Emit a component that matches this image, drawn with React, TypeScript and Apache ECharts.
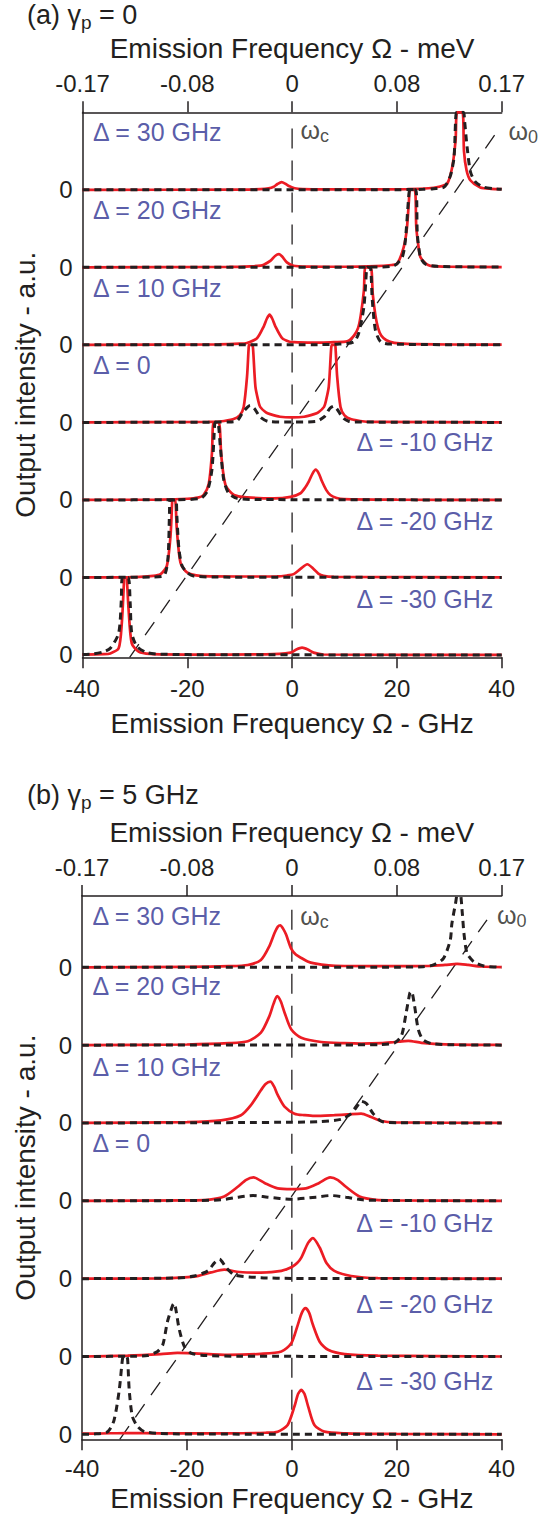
import React, { useEffect, useRef } from 'react';
import * as echarts from 'echarts';

// ---------- categories / ticks ----------
const detunings = [30, 20, 10, 0, -10, -20, -30];
const deltaLabels = ['Δ = 30 GHz', 'Δ = 20 GHz', 'Δ = 10 GHz', 'Δ = 0', 'Δ = -10 GHz', 'Δ = -20 GHz', 'Δ = -30 GHz'];
const ghzTicks = [-40, -20, 0, 20, 40];
const meVTickLabels = ['-0.17', '-0.08', '0', '0.08', '0.17'];
const baselineValues = [0, 1, 2, 3, 4, 5, 6];
const panelLetters = ['(a)', '(b)'];
const gammaValues = ['0', '5 GHz'];

// ---------- panel (a) gamma_p = 0 : [GHz, intensity in trace-spacing units] ----------
const redA_p30 = [[-40,0],[-10,0.003],[-6,0.008],[-4.5,0.018],[-3.5,0.04],[-2.8,0.075],[-2,0.1],[-1.2,0.075],[-0.5,0.045],[0.5,0.02],[2,0.01],[6,0.005],[15,0.005],[22,0.01],[26,0.02],[28,0.04],[29.6,0.08],[30.55,0.29],[31.2,0.64],[31.5,1],[32.5,1],[32.8,0.5],[33.3,0.25],[34.05,0.12],[35.9,0.03],[38,0.012],[40,0.008]];
const blkA_p30 = [[-40,0],[20,0.002],[25,0.006],[27,0.015],[29,0.035],[30.2,0.18],[30.9,0.42],[31.2,0.89],[31.4,1],[32.7,1],[32.9,0.9],[33.4,0.55],[34.05,0.23],[35,0.1],[36.6,0.034],[38.5,0.015],[40,0.008]];
const redA_p20 = [[-40,0],[-12,0.005],[-8,0.012],[-6,0.022],[-5.4,0.034],[-4.1,0.086],[-3.2,0.15],[-2.5,0.17],[-1.9,0.14],[-1,0.064],[0.3,0.02],[3,0.01],[10,0.008],[16,0.015],[19,0.03],[20.05,0.045],[21.3,0.26],[21.9,0.5],[22.3,0.86],[22.5,1],[23.4,1],[23.7,0.52],[24.1,0.28],[24.5,0.13],[25.5,0.05],[26.4,0.02],[30,0.008],[40,0.004]];
const blkA_p20 = [[-40,0],[15,0.003],[19.4,0.02],[21,0.13],[21.6,0.34],[22.3,0.95],[22.5,1],[23.6,1],[23.9,0.43],[24.5,0.13],[25.5,0.04],[27.7,0.013],[40,0.003]];
const redA_p10 = [[-40,0],[-14,0.006],[-10,0.015],[-8.6,0.025],[-6.7,0.086],[-5.4,0.24],[-4.8,0.34],[-4.3,0.39],[-3.8,0.34],[-3.2,0.24],[-1.9,0.086],[-0.5,0.04],[0.3,0.035],[3,0.03],[6,0.03],[8,0.035],[10.5,0.045],[11.8,0.12],[12.6,0.22],[13.1,0.38],[13.7,0.7],[14.0,1],[15.0,1],[15.4,0.65],[15.9,0.38],[16.4,0.22],[17,0.12],[18,0.06],[19.5,0.025],[22,0.012],[30,0.005],[40,0.003]];
const blkA_p10 = [[-40,0],[5,0.003],[9,0.01],[11.8,0.04],[12.7,0.15],[13.7,0.49],[14.2,0.97],[14.3,1],[14.9,1],[15.3,0.58],[15.9,0.19],[16.9,0.04],[18.8,0.01],[40,0]];
const redA_0 = [[-40,0],[-16,0.006],[-13.8,0.012],[-11.3,0.04],[-10,0.09],[-9.24,0.2],[-8.6,0.59],[-8.3,0.95],[-8.2,1],[-7.6,1],[-7.45,0.95],[-7.0,0.46],[-6.5,0.29],[-6.1,0.2],[-5,0.13],[-4.2,0.107],[-2.3,0.073],[0,0.064],[2.3,0.073],[4.2,0.107],[5,0.13],[6.1,0.2],[6.5,0.29],[7.0,0.46],[7.45,0.95],[7.6,1],[8.2,1],[8.3,0.95],[8.6,0.59],[9.24,0.2],[10,0.09],[11.3,0.04],[13.8,0.012],[16,0.006],[40,0]];
const blkA_0 = [[-40,0],[-12,0.005],[-10.5,0.02],[-9.5,0.12],[-8.6,0.19],[-8,0.22],[-7.2,0.18],[-6.1,0.07],[-4.5,0.012],[0,0.004],[4.5,0.012],[6.1,0.07],[7.2,0.18],[8,0.21],[8.6,0.17],[9.7,0.06],[10.8,0.015],[12,0.005],[40,0]];
const redA_m10 = [[-40,0],[-25,0.005],[-20,0.015],[-18,0.03],[-16.9,0.064],[-15.9,0.21],[-15.3,0.6],[-14.96,1],[-14.0,1],[-13.5,0.56],[-12.7,0.19],[-11.1,0.064],[-8.6,0.034],[-3.5,0.02],[-0.3,0.04],[1.6,0.086],[2.5,0.16],[3.2,0.24],[3.9,0.34],[4.5,0.39],[5.1,0.34],[5.7,0.24],[6.5,0.13],[7.3,0.064],[8.5,0.025],[9.9,0.01],[20,0.003],[40,0]];
const blkA_m10 = [[-40,0],[-22,0.003],[-17.5,0.02],[-16.2,0.11],[-15.3,0.39],[-14.8,0.95],[-14.7,1],[-14.2,1],[-13.7,0.69],[-13.05,0.26],[-12.1,0.086],[-10.5,0.02],[-6,0.005],[40,0]];
const redA_m20 = [[-40,0],[-30,0.005],[-26.5,0.02],[-25.1,0.043],[-23.9,0.15],[-23.2,0.54],[-22.9,0.96],[-22.85,1],[-22.35,1],[-22.0,0.62],[-21.3,0.19],[-20.05,0.064],[-17.5,0.02],[-10,0.012],[-2.9,0.013],[-1,0.025],[0.3,0.043],[1.6,0.11],[2.9,0.17],[4.1,0.11],[5,0.05],[6,0.02],[8,0.008],[40,0]];
const blkA_m20 = [[-40,0],[-27,0.005],[-24.5,0.02],[-23.7,0.24],[-23.4,0.84],[-23.3,1],[-22.2,1],[-22.0,0.8],[-21.6,0.37],[-21,0.15],[-20.05,0.064],[-18.8,0.02],[-15,0.005],[40,0]];
const redA_m30 = [[-40,0.005],[-36,0.01],[-34.7,0.02],[-33.1,0.086],[-32.5,0.41],[-32.1,0.92],[-32.05,1],[-31.55,1],[-31.5,0.95],[-31.2,0.58],[-30.6,0.15],[-29.3,0.043],[-27.1,0.013],[-20,0.005],[-5,0.008],[-0.3,0.03],[0.8,0.07],[1.9,0.094],[3,0.07],[4.1,0.03],[6,0.006],[40,0]];
const blkA_m30 = [[-40,0.006],[-37.9,0.013],[-36,0.04],[-34.7,0.086],[-33.1,0.28],[-32.6,0.7],[-32.4,1],[-31.3,1],[-30.9,0.67],[-30.6,0.28],[-29.6,0.11],[-27.7,0.03],[-25.1,0.01],[-15,0.003],[40,0]];

// ---------- panel (b) gamma_p = 5 GHz ----------
const redB_p30 = [[-40,0],[-20,0.006],[-12,0.015],[-8.4,0.03],[-5.9,0.094],[-4.3,0.27],[-3.3,0.44],[-2.7,0.52],[-2.2,0.54],[-1.7,0.5],[-1.1,0.42],[-0.13,0.24],[0.8,0.16],[1.8,0.12],[3,0.075],[4.3,0.05],[7,0.025],[10,0.017],[20,0.015],[26,0.017],[29.2,0.03],[31.5,0.043],[33.6,0.03],[36.2,0.01],[40,0.003]];
const blkB_p30 = [[-40,0],[20,0.002],[25,0.008],[27,0.03],[28.9,0.115],[30.2,0.35],[30.5,0.56],[31.2,0.82],[31.7,1],[32.0,1],[32.5,0.69],[32.8,0.44],[33.4,0.18],[34.7,0.07],[36.6,0.017],[39.1,0.003],[40,0]];
const redB_p20 = [[-40,0],[-20,0.008],[-12,0.025],[-8.4,0.05],[-5.9,0.16],[-4.3,0.37],[-3.5,0.53],[-2.8,0.63],[-2.1,0.56],[-1.4,0.42],[-0.1,0.2],[1.8,0.094],[5.6,0.04],[10,0.025],[13.2,0.02],[17,0.025],[19.6,0.04],[22.2,0.055],[24.7,0.03],[29.2,0.01],[40,0.003]];
const blkB_p20 = [[-40,0],[10,0.003],[17,0.008],[19.6,0.03],[20.9,0.12],[21.8,0.42],[22.5,0.67],[22.8,0.69],[23.4,0.5],[24.1,0.2],[25,0.07],[26.6,0.02],[30,0.005],[40,0]];
const redB_p10 = [[-40,0],[-20,0.012],[-13.5,0.034],[-9.7,0.1],[-7.8,0.23],[-5.9,0.42],[-5,0.5],[-4.1,0.53],[-3.4,0.47],[-2.7,0.36],[-1.4,0.21],[0.5,0.12],[2.5,0.1],[4.3,0.09],[8.1,0.1],[10.7,0.11],[13.2,0.12],[15.1,0.077],[17.1,0.026],[19.6,0.008],[40,0]];
const blkB_p10 = [[-40,0],[-10,0.005],[0,0.01],[5,0.015],[9.4,0.047],[11.3,0.12],[12.5,0.22],[13.2,0.28],[14.2,0.25],[15.5,0.12],[17.1,0.02],[20,0.003],[40,0]];
const redB_0 = [[-40,0],[-20,0.006],[-16,0.013],[-12.9,0.056],[-10.3,0.18],[-8.7,0.27],[-7.3,0.3],[-5.2,0.23],[-2.7,0.16],[0,0.15],[2.7,0.16],[5.2,0.23],[7.3,0.3],[8.7,0.27],[10.3,0.18],[12.9,0.056],[16,0.013],[20,0.006],[40,0]];
const blkB_0 = [[-40,0],[-18,0.004],[-13.5,0.013],[-10.3,0.047],[-7.4,0.068],[-4.6,0.047],[0,0.02],[4.6,0.047],[7.4,0.068],[10.3,0.047],[13.5,0.013],[18,0.004],[40,0]];
const redB_m10 = [[-40,0],[-25,0.004],[-18.6,0.026],[-15.4,0.08],[-12.9,0.115],[-10,0.085],[-5.9,0.077],[-2,0.1],[0,0.15],[1,0.2],[1.8,0.27],[3.1,0.46],[4.0,0.52],[5.3,0.4],[6.6,0.2],[8.1,0.1],[11.3,0.034],[16.4,0.006],[40,0]];
const blkB_m10 = [[-40,0],[-22,0.008],[-18.6,0.034],[-16,0.1],[-14.8,0.2],[-13.8,0.25],[-12.5,0.14],[-10.9,0.047],[-5.9,0.013],[0,0.003],[40,0]];
const redB_m20 = [[-40,0],[-31.3,0.01],[-25,0.03],[-21.8,0.047],[-18.6,0.04],[-12.2,0.02],[-5.9,0.034],[-2,0.064],[-0.1,0.17],[1.15,0.41],[1.9,0.56],[2.6,0.62],[3.3,0.56],[4.0,0.41],[5.3,0.19],[6.9,0.086],[10.1,0.03],[16.4,0.01],[40,0]];
const blkB_m20 = [[-40,0],[-30,0.004],[-27.5,0.013],[-25.6,0.064],[-24.6,0.15],[-23.7,0.45],[-22.7,0.66],[-22.4,0.685],[-22.1,0.6],[-21.5,0.36],[-20.5,0.13],[-19.2,0.043],[-17.3,0.017],[-10,0.003],[40,0]];
const redB_m30 = [[-40,0.01],[-37.7,0.01],[-31.3,0.017],[-25,0.013],[-12.2,0.013],[-5,0.02],[-2.7,0.034],[-0.8,0.12],[0.5,0.36],[1.2,0.52],[1.8,0.57],[2.4,0.52],[3.1,0.36],[4.3,0.12],[6.2,0.034],[10.1,0.013],[20,0.005],[40,0]];
const blkB_m30 = [[-40,0],[-37.7,0.004],[-35.1,0.034],[-33.9,0.18],[-32.9,0.57],[-32.3,0.96],[-32.1,1],[-31.5,1],[-31.3,0.96],[-31.0,0.57],[-30.4,0.23],[-29.4,0.1],[-28.1,0.034],[-25,0.01],[-15,0.003],[40,0]];

// reference lines (axis units)
const omegaCLineA = [[0, 6.79], [0, -0.03]];
const omega0LineA = [[-31, -0.03], [38.8, 6.72]];
const omegaCLineB = [[0, 6.74], [0, -0.064]];
const omega0LineB = [[-32.8, -0.064], [37.2, 6.61]];

const redTraces = [
  [redA_p30, redA_p20, redA_p10, redA_0, redA_m10, redA_m20, redA_m30],
  [redB_p30, redB_p20, redB_p10, redB_0, redB_m10, redB_m20, redB_m30],
];
const blkTraces = [
  [blkA_p30, blkA_p20, blkA_p10, blkA_0, blkA_m10, blkA_m20, blkA_m30],
  [blkB_p30, blkB_p20, blkB_p10, blkB_0, blkB_m10, blkB_m20, blkB_m30],
];
const omegaCLines = [omegaCLineA, omegaCLineB];
const omega0Lines = [omega0LineA, omega0LineB];

// ---------- layout / style ----------
const FONT = '"Liberation Sans", Arial, Helvetica, sans-serif';
const TXT = '#231f20';
const RED = '#ec1c24';
const BLK = '#231f20';
const BLUE = '#2e3192';

const layout = [
  { grid: { left: 82.5, top: 112.3, width: 419.2, height: 545 }, yMin: -0.03, yMax: 7,
    rise: [0.74, 0.74, 0.74, 0.74, 0.75, 0.73, 0.72], wc: [1.6, 6.77], w0: [41.3, 6.76], titleY: 15,
    botMargin: 19, botGap: 52 },
  { grid: { left: 82, top: 896, width: 419.7, height: 543.3 }, yMin: -0.064, yMax: 6.916,
    rise: [0.665, 0.76, 0.72, 0.74, 0.72, 0.68, 0.68], wc: [1.6, 6.66], w0: [39.1, 6.67], titleY: 795,
    botMargin: 17, botGap: 45 },
];
const LEFT_LABEL_X = -38;
const RIGHT_LABEL_X = 38.4;

function buildOption() {
  const grids: any[] = [];
  const xAxes: any[] = [];
  const yAxes: any[] = [];
  const series: any[] = [];
  const graphic: any[] = [];

  layout.forEach((L, p) => {
    grids.push({ ...L.grid, containLabel: false, outerBoundsMode: 'none' });
    const common = {
      type: 'value', gridIndex: p, min: -40, max: 40, interval: 20,
      axisLine: { show: true, onZero: false, lineStyle: { color: TXT, width: 1.5 } },
      axisTick: { show: true, length: 11, inside: false, lineStyle: { color: TXT, width: 1.5 } },
      splitLine: { show: false },
      nameLocation: 'middle', nameMoveOverlap: false,
      nameTextStyle: { color: TXT, fontSize: 28, fontFamily: FONT },
    };
    xAxes.push({
      ...common, position: 'bottom',
      axisLabel: { color: TXT, fontSize: 24, fontFamily: FONT, margin: L.botMargin, formatter: (v: number) => String(v) },
      name: 'Emission Frequency Ω - GHz', nameGap: L.botGap,
    });
    xAxes.push({
      ...common, position: 'top',
      axisLabel: { color: TXT, fontSize: 24, fontFamily: FONT, margin: 17,
        formatter: (v: number) => meVTickLabels[ghzTicks.indexOf(v)] ?? '' },
      name: 'Emission Frequency Ω - meV', nameGap: 50,
    });
    yAxes.push({
      type: 'value', gridIndex: p, min: L.yMin, max: L.yMax, position: 'left',
      axisLine: { show: true, onZero: false, lineStyle: { color: TXT, width: 1.5 } },
      axisTick: { show: false }, splitLine: { show: false },
      axisLabel: { customValues: baselineValues, formatter: () => '0', color: TXT, fontSize: 24, fontFamily: FONT, margin: 10 },
      name: 'Output intensity - a.u.', nameLocation: 'middle', nameRotate: 90, nameGap: 43, nameMoveOverlap: false,
      nameTextStyle: { color: TXT, fontSize: 28, fontFamily: FONT },
    });

    const xi = p * 2;
    // reference dashed lines
    series.push({
      type: 'line', xAxisIndex: xi, yAxisIndex: p, data: omegaCLines[p], showSymbol: false, symbol: 'none',
      lineStyle: { color: BLK, width: 1.3, type: [20, 12] }, z: 1, silent: true,
    });
    series.push({
      type: 'line', xAxisIndex: xi, yAxisIndex: p, data: omega0Lines[p], showSymbol: false, symbol: 'none',
      lineStyle: { color: BLK, width: 1.3, type: [16, 11] }, z: 1, silent: true,
    });

    detunings.forEach((d, i) => {
      const off = detunings.length - 1 - i;
      series.push({
        type: 'line', xAxisIndex: xi, yAxisIndex: p, symbol: 'none', showSymbol: false, smooth: 0.25,
        data: redTraces[p][i].map(([x, y]) => [x, y + off]),
        lineStyle: { color: RED, width: 2.7 }, z: 2, silent: true,
      });
      series.push({
        type: 'line', xAxisIndex: xi, yAxisIndex: p, symbol: 'none', showSymbol: false, smooth: 0.25,
        data: blkTraces[p][i].map(([x, y]) => [x, y + off]),
        lineStyle: { color: BLK, width: 3, type: [7, 5], cap: 'butt' }, z: 3, silent: true,
      });
    });

    // text labels placed through the axes
    const labelData: any[] = detunings.map((d, i) => {
      const off = detunings.length - 1 - i;
      const left = d >= 0;
      return {
        value: [left ? LEFT_LABEL_X : RIGHT_LABEL_X, off + L.rise[i]],
        label: {
          show: true, formatter: deltaLabels[i], position: left ? 'right' : 'left', distance: 0,
          color: BLUE, fontSize: 25, fontFamily: FONT,
        },
      };
    });
    const omegaRich = {
      w: { fontSize: 25, color: TXT, fontFamily: FONT, lineHeight: 30 },
      c: { fontSize: 18, color: TXT, fontFamily: FONT, lineHeight: 17, verticalAlign: 'bottom' },
      z: { fontSize: 18, color: TXT, fontFamily: FONT, lineHeight: 23, verticalAlign: 'bottom' },
    };
    labelData.push({ value: L.wc, label: { show: true, formatter: '{w|ω}{c|c}', position: 'right', distance: 0, rich: omegaRich } });
    labelData.push({ value: L.w0, label: { show: true, formatter: '{w|ω}{z|0}', position: 'right', distance: 0, rich: omegaRich } });
    series.push({
      type: 'scatter', xAxisIndex: xi, yAxisIndex: p, data: labelData, symbolSize: 0.1, clip: false,
      itemStyle: { color: 'rgba(0,0,0,0)' }, z: 5, silent: true,
    });

    graphic.push({
      type: 'text', x: 27, y: L.titleY, silent: true,
      style: {
        text: `${panelLetters[p]} γ{s|p} = ${gammaValues[p]}`,
        fill: TXT, fontSize: 27, fontFamily: FONT, lineHeight: 34,
        align: 'left', verticalAlign: 'middle', textAlign: 'left', textVerticalAlign: 'middle',
        rich: { s: { fontSize: 19, fontFamily: FONT, fill: TXT, lineHeight: 20, verticalAlign: 'bottom' } },
      },
    });
  });

  return {
    animation: false,
    backgroundColor: '#ffffff',
    grid: grids,
    xAxis: xAxes,
    yAxis: yAxes,
    series,
    graphic,
  };
}

export default function App() {
  const ref = useRef<HTMLDivElement>(null);
  useEffect(() => {
    if (!ref.current) return;
    const chart = echarts.init(ref.current, undefined, { renderer: 'svg' });
    chart.setOption(buildOption() as any);
    return () => chart.dispose();
  }, []);
  return (
    <div
      ref={ref}
      style={{ position: 'fixed', left: 0, top: 0, width: 559, height: 1515, background: '#fff' }}
    />
  );
}
